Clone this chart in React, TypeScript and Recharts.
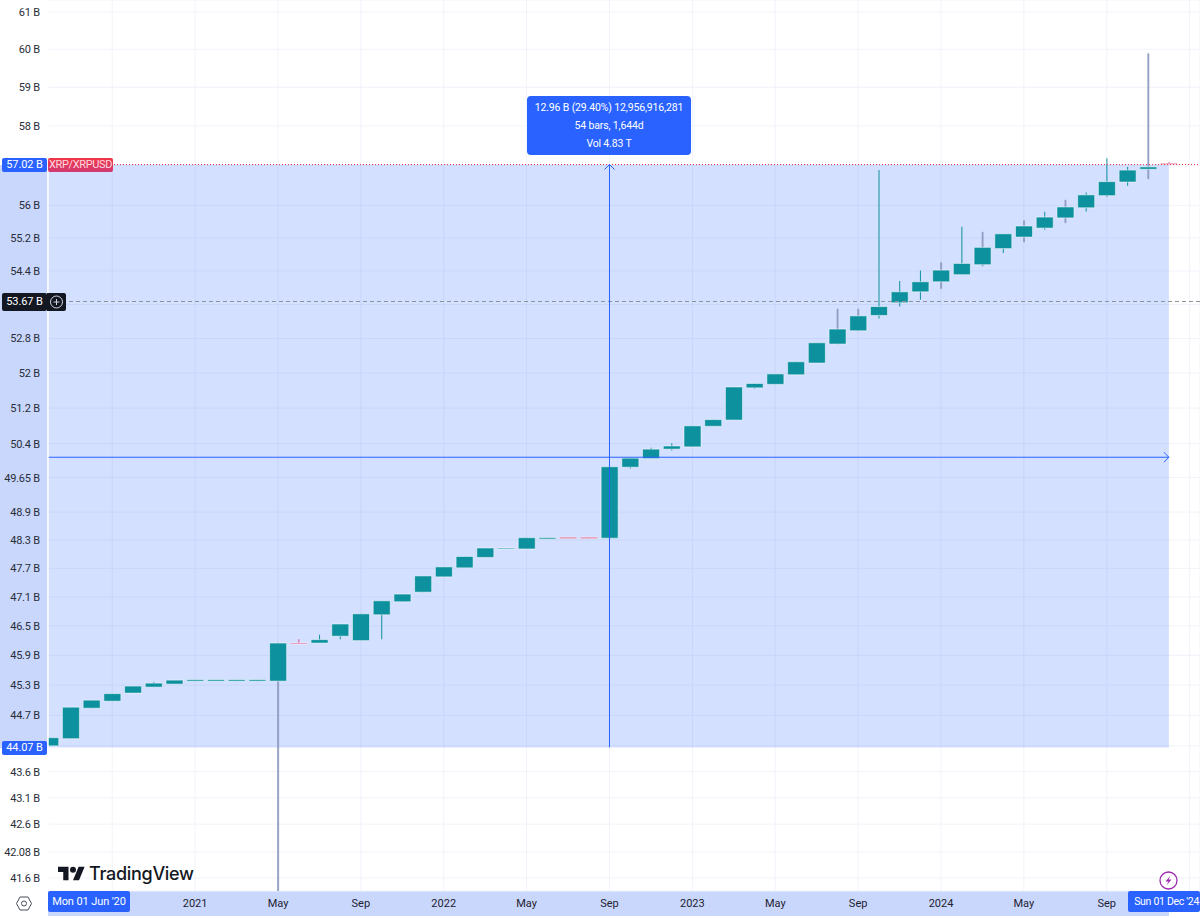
import React from 'react';
import {
  Bar,
  CartesianGrid,
  Cell,
  ComposedChart,
  ReferenceArea,
  ReferenceLine,
  XAxis,
  YAxis,
} from 'recharts';

// monthly candles, Jun 2020 .. Dec 2024, values in billions
const opens = [
  44.1, 44.24, 44.84, 44.98, 45.14, 45.26, 45.32, 45.38, 45.38, 45.38, 45.38, 45.38, 46.15, 46.15, 46.29, 46.2, 46.73,
  47.0, 47.2, 47.52, 47.71, 47.93, 48.11, 48.11, 48.32, 48.36, 48.36, 48.34, 49.88, 50.07, 50.28, 50.33, 50.79, 50.93,
  51.66, 51.74, 51.96, 52.23, 52.67, 52.98, 53.34, 53.64, 53.9, 54.14, 54.31, 54.55, 54.94, 55.22, 55.44, 55.69, 55.94,
  56.24, 56.58, 56.9, 57.05,
];
const closes = [
  44.26, 44.86, 45.0, 45.13, 45.28, 45.34, 45.4, 45.41, 45.41, 45.41, 45.41, 46.15, 46.13, 46.22, 46.54, 46.75, 47.02,
  47.16, 47.54, 47.73, 47.95, 48.13, 48.13, 48.35, 48.35, 48.33, 48.33, 49.89, 50.08, 50.28, 50.35, 50.8, 50.94, 51.68,
  51.76, 51.98, 52.26, 52.7, 53.02, 53.33, 53.55, 53.9, 54.14, 54.42, 54.58, 54.97, 55.3, 55.49, 55.71, 55.96, 56.26,
  56.59, 56.88, 56.96, 57.02,
];
const highs = [
  44.26, 44.86, 45.0, 45.13, 45.28, 45.36, 45.4, 45.41, 45.41, 45.41, 45.41, 46.15, 46.23, 46.32, 46.54, 46.75, 47.02,
  47.16, 47.54, 47.73, 47.95, 48.13, 48.13, 48.35, 48.35, 48.36, 48.36, 49.89, 50.08, 50.31, 50.41, 50.8, 50.94, 51.68,
  51.76, 51.98, 52.26, 52.7, 53.49, 53.49, 56.88, 54.16, 54.41, 54.6, 55.47, 55.34, 55.3, 55.62, 55.84, 56.13, 56.32,
  57.18, 56.96, 59.88, 57.08,
];
const lows = [
  44.1, 44.24, 44.84, 44.98, 45.14, 45.26, 45.32, 45.38, 45.38, 45.38, 45.38, 41.36, 46.13, 46.15, 46.23, 46.2, 46.23,
  47.0, 47.2, 47.52, 47.71, 47.93, 48.11, 48.11, 48.32, 48.33, 48.33, 48.34, 49.85, 50.07, 50.25, 50.33, 50.79, 50.93,
  51.64, 51.74, 51.96, 52.23, 52.67, 52.98, 53.27, 53.55, 53.71, 53.98, 54.31, 54.52, 54.83, 55.1, 55.4, 55.57, 55.85,
  56.21, 56.49, 56.66, 57.02,
];

const priceTicks = [
  61, 60, 59, 58, 57, 56, 55.2, 54.4, 53.6, 52.8, 52, 51.2, 50.4, 49.65, 48.9, 48.3, 47.7, 47.1, 46.5, 45.9, 45.3, 44.7,
  44.1, 43.6, 43.1, 42.6, 42.08, 41.6,
];
const hiddenPriceLabels = [57, 53.6, 44.1];
const timeTicks = [3, 7, 11, 15, 19, 23, 27, 31, 35, 39, 43, 47, 51, 55];
const timeLabels = ['', '2021', 'May', 'Sep', '2022', 'May', 'Sep', '2023', 'May', 'Sep', '2024', 'May', 'Sep', ''];

// months whose wick looks soft and grey in the screenshot
const softWicks = [11, 38, 39, 43, 45, 47, 49, 53];

const rangeLow = 44.07;
const rangeHigh = 57.02;
const rangeMid = 50.1;
const crosshairPrice = 53.67;
const measureBar = 27;
const lastBar = 54;

const FONT = 'Roboto, sans-serif';
const TEAL = '#0e919e';
const RED = '#dd4f84';
const BLUE = '#2962ff';
const BAND = '#c9d7fd';

const table = opens.map((open, i) => ({
  i,
  body: [Math.min(open, closes[i]), Math.max(open, closes[i])],
  wick: [lows[i], highs[i]],
  down: closes[i] < open,
}));

const ArrowLine = (props: any) => {
  const { x1, y1, x2, y2 } = props;
  const vertical = Math.abs(x1 - x2) < 1;
  const head = vertical
    ? `M${x2 - 5} ${Math.min(y1, y2) + 5}L${x2} ${Math.min(y1, y2)}L${x2 + 5} ${Math.min(y1, y2) + 5}`
    : `M${Math.max(x1, x2) - 5} ${y2 - 5}L${Math.max(x1, x2)} ${y2}L${Math.max(x1, x2) - 5} ${y2 + 5}`;
  return (
    <g stroke="#2962ff" strokeWidth={1} fill="none">
      <line x1={x1} y1={y1} x2={x2} y2={y2} />
      <path d={head} />
    </g>
  );
};

const box = (left: number, top: number, width: number, height: number): React.CSSProperties => ({
  position: 'absolute',
  left,
  top,
  width,
  height,
});

const badge = (left: number, top: number, width: number, height: number, background: string): React.CSSProperties => ({
  ...box(left, top, width, height),
  background,
  color: '#fff',
  fontSize: 11,
  letterSpacing: -0.1,
  lineHeight: `${height}px`,
  textAlign: 'center',
  whiteSpace: 'nowrap',
  overflow: 'hidden',
  borderRadius: 2,
  zIndex: 5,
});

export default function App() {
  return (
    <div style={{ ...box(0, 0, 1200, 918), background: '#fff', fontFamily: FONT, overflow: 'hidden' }}>
      <div style={{ ...box(0, 165, 48, 583), background: BAND }} />
      <div style={{ ...box(48, 891, 1121, 25), background: BAND }} />

      <div style={{ ...box(0, 0, 1200, 918) }}>
        <ComposedChart width={1200} height={918} data={table} margin={{ top: 0, right: 0, bottom: 0, left: 0 }}>
          <CartesianGrid stroke="#f0f3fa" strokeWidth={1} />
          <XAxis
            type="number"
            dataKey="i"
            domain={[-0.1, 55.5]}
            allowDataOverflow
            ticks={timeTicks}
            interval={0}
            height={27}
            axisLine={false}
            tickLine={false}
            tickMargin={2}
            tick={{ fontSize: 11, fill: '#1e2230', fontFamily: FONT }}
            tickFormatter={(v: number) => timeLabels[timeTicks.indexOf(v)]}
          />
          <XAxis xAxisId="wick" type="number" dataKey="i" domain={[-0.1, 55.5]} allowDataOverflow hide />
          <YAxis
            scale="log"
            type="number"
            domain={[41.36, 61.32]}
            allowDataOverflow
            ticks={priceTicks}
            interval={0}
            width={48}
            axisLine={{ stroke: '#fff', strokeWidth: 1.5 }}
            tickLine={false}
            tickMargin={2}
            tick={{ fontSize: 11, fill: '#2a2e39', fontFamily: FONT, letterSpacing: -0.2 }}
            tickFormatter={(v: number) => (hiddenPriceLabels.includes(v) ? '' : `${v}\u00A0B`)}
          />
          <ReferenceArea
            x1={-0.1}
            x2={lastBar}
            y1={rangeLow}
            y2={rangeHigh}
            fill="#2962ff"
            fillOpacity={0.2}
            stroke="none"
            ifOverflow="extendDomain"
          />
          <Bar xAxisId="wick" dataKey="wick" barSize={1} isAnimationActive={false}>
            {table.map((d) =>
              softWicks.includes(d.i) ? (
                <Cell key={d.i} fill="#8f9cc2" stroke="#8f9cc2" strokeWidth={0.8} />
              ) : (
                <Cell key={d.i} fill={d.down ? RED : TEAL} />
              ),
            )}
          </Bar>
          <Bar dataKey="body" barSize={17} stroke="#ffffff" strokeOpacity={0.5} isAnimationActive={false}>
            {table.map((d) => (
              <Cell key={d.i} fill={d.down ? RED : TEAL} />
            ))}
          </Bar>
          <ReferenceLine y={rangeHigh} stroke="#f23645" strokeDasharray="1 2" />
          <ReferenceLine y={crosshairPrice} stroke="#8f929b" strokeDasharray="4 3" />
          <ReferenceLine
            segment={[
              { x: -0.1, y: rangeMid },
              { x: lastBar, y: rangeMid },
            ]}
            shape={ArrowLine}
          />
          <ReferenceLine
            segment={[
              { x: measureBar, y: rangeLow },
              { x: measureBar, y: rangeHigh },
            ]}
            shape={ArrowLine}
          />
        </ComposedChart>
      </div>

      {/* price badges */}
      <div style={badge(2, 158, 45, 14, BLUE)}>57.02{'\u00A0'}B</div>
      <div style={{ ...badge(48, 158, 65, 14, 'linear-gradient(#f23645, #d13a72)'), color: '#fbd9e2', letterSpacing: -0.35 }}>
        XRP/XRPUSD
      </div>
      <div style={badge(2, 293, 45, 18, '#131722')}>53.67{'\u00A0'}B</div>
      <div style={{ ...badge(47, 293, 19, 18, '#131722'), borderRadius: '0 2px 2px 0' }}>
        <svg width={19} height={18} style={{ display: 'block' }}>
          <circle cx={9.5} cy={9} r={6} fill="none" stroke="#d1d4dc" strokeWidth={1} />
          <path d="M6.5 9H12.5M9.5 6V12" stroke="#d1d4dc" strokeWidth={1} />
        </svg>
      </div>
      <div style={badge(2, 741, 45, 14, BLUE)}>44.07{'\u00A0'}B</div>

      {/* time badges */}
      <div style={badge(48, 891, 82, 21, BLUE)}>Mon 01 Jun '20</div>
      <div style={{ ...badge(1128, 891, 72, 21, BLUE), textAlign: 'right', fontSize: 10.5, letterSpacing: -0.3, paddingRight: 1, boxSizing: 'border-box' }}>
        Sun 01 Dec '24
      </div>

      {/* measure label */}
      <div
        style={{
          ...box(527, 96, 164, 59),
          background: BLUE,
          borderRadius: 4,
          color: '#fff',
          fontSize: 10.5,
          letterSpacing: -0.15,
          lineHeight: '18px',
          textAlign: 'center',
          whiteSpace: 'nowrap',
          paddingTop: 3,
          boxSizing: 'border-box',
          zIndex: 5,
        }}
      >
        <div>12.96 B (29.40%) 12,956,916,281</div>
        <div>54 bars, 1,644d</div>
        <div>Vol 4.83 T</div>
      </div>

      {/* watermark */}
      <svg style={{ ...box(58, 866, 27, 15), zIndex: 4 }} viewBox="0 4 36 18">
        <path d="M14 22H7V11H0V4h14v18zM28 22h-8l7.5-18h8L28 22z" fill="#131722" />
        <circle cx={20} cy={8} r={4} fill="#131722" />
      </svg>
      <div
        style={{
          ...box(89, 862, 110, 24),
          fontSize: 18,
          lineHeight: '24px',
          fontWeight: 500,
          color: '#131722',
          fontFamily: 'Inter, sans-serif',
          letterSpacing: -0.3,
          zIndex: 4,
        }}
      >
        TradingView
      </div>

      {/* settings and lightning icons */}
      <svg style={{ ...box(15, 895, 18, 17), zIndex: 4 }} viewBox="0 0 18 17">
        <path d="M5 2H13L16.5 8.5L13 15H5L1.500 8.500Z" fill="none" stroke="#4a4f5e" strokeWidth={1} />
        <circle cx={9} cy={8.5} r={2.5} fill="none" stroke="#4a4f5e" strokeWidth={1} />
      </svg>
      <svg style={{ ...box(1159, 871, 19, 19), zIndex: 4 }} viewBox="0 0 19 19">
        <circle cx={9.5} cy={9.500} r={8.500} fill="#fff" stroke="#9c27b0" strokeWidth={1.3} />
        <path d="M11.500 4.500L6.500 10.500H9.500L7.500 14.500L12.500 8.500H9.500Z" fill="#9c27b0" />
      </svg>
    </div>
  );
}
